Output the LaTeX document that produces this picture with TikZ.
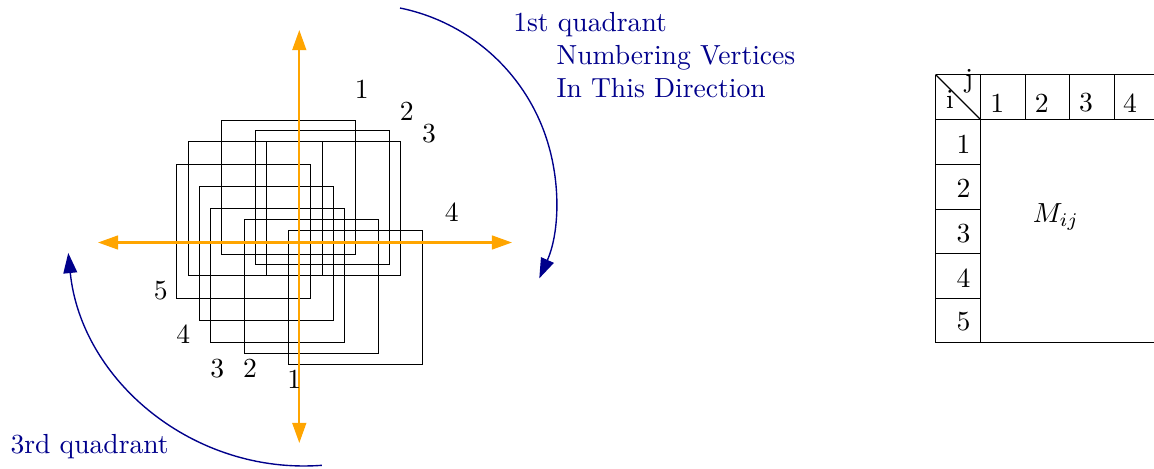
\documentclass[tikz,border=0pt]{standalone}
\usetikzlibrary{arrows.meta}
\definecolor{axorange}{RGB}{255,165,0}
\definecolor{arcblue}{RGB}{0,0,139}
\begin{document}
\begin{tikzpicture}[x=0.3623pt,y=0.3623pt,
  sq/.style={draw=black,line width=0.4pt},
  axisline/.style={draw=axorange,line width=0.8pt,{Triangle[length=7.3pt,width=5pt]}-{Triangle[length=7.3pt,width=5pt]}},
  turnarrow/.style={draw=arcblue,line width=0.5pt,-{Triangle[length=7.3pt,width=5pt]}},
  lbl/.style={inner sep=0pt},
  bluetext/.style={inner sep=0pt,anchor=base west,text=arcblue},
  tab/.style={draw=black,line width=0.4pt}]
\useasboundingbox (0,0) rectangle (1154,468);
% squares
\draw[sq] (221.5,213.5) rectangle +(134,134);
\draw[sq] (255.5,203.5) rectangle +(134,134);
\draw[sq] (188.5,192.5) rectangle +(134,134);
\draw[sq] (266.5,192.5) rectangle +(134,134);
\draw[sq] (176.5,169.5) rectangle +(134,134);
\draw[sq] (199.5,147.5) rectangle +(134,134);
\draw[sq] (210.5,125.5) rectangle +(134,134);
\draw[sq] (244.5,114.5) rectangle +(134,134);
\draw[sq] (288.5,103.5) rectangle +(134,134);
% axes
\coordinate (axL) at (98,225.5);
\coordinate (axR) at (512,225.5);
\coordinate (axB) at (299.3,25);
\coordinate (axT) at (299.3,438);
\draw[axisline] (axL) -- (axR);
\draw[axisline] (axB) -- (axT);
% vertex labels
\node[lbl] (t1) at (361.7,378.7) {1};
\node[lbl] (t2) at (406.7,356.3) {2};
\node[lbl] (t3) at (429,334.7) {3};
\node[lbl] (t4) at (451.7,256.3) {4};
\node[lbl] (b5) at (160.7,177.3) {5};
\node[lbl] (b4) at (183.3,133.7) {4};
\node[lbl] (b3) at (217.3,99.7) {3};
\node[lbl] (b2) at (250,99.7) {2};
\node[lbl] (b1) at (294.3,88.7) {1};
% arcs
\coordinate (q1s) at (400,460);
\draw[turnarrow] (q1s) arc[start angle=78.5,end angle=-24,radius=195];
\coordinate (q3s) at (321.8,2.7);
\draw[turnarrow] (q3s) arc[start angle=-85.7,end angle=-174.2,radius=237];
% blue texts
\node[bluetext] (q1a) at (512.7,437) {1st quadrant};
\node[bluetext] (q1b) at (556,404) {Numbering Vertices};
\node[bluetext] (q1c) at (556,370.3) {In This Direction};
\node[bluetext] (q3a) at (10,14.7) {3rd quadrant};
% table
\draw[tab] (935.5,393.5) -- (1154,393.5);
\draw[tab] (935.5,348.5) -- (1154,348.5);
\draw[tab] (935.5,125.5) -- (1154,125.5);
\draw[tab] (935.5,393.5) -- (935.5,125.5);
\draw[tab] (980.5,393.5) -- (980.5,125.5);
\draw[tab] (1025.5,393.5) -- (1025.5,348.5);
\draw[tab] (1069.5,393.5) -- (1069.5,348.5);
\draw[tab] (1114.5,393.5) -- (1114.5,348.5);
\draw[tab] (935.5,303.5) -- (980.5,303.5);
\draw[tab] (935.5,258.5) -- (980.5,258.5);
\draw[tab] (935.5,214.5) -- (980.5,214.5);
\draw[tab] (935.5,169.5) -- (980.5,169.5);
\draw[tab] (935.5,393.5) -- (980.5,348.5);
\node[lbl,anchor=base] (ti) at (950,359.7) {i};
\node[lbl,anchor=base] (tj) at (969,380.7) {j};
\node[lbl] (c1) at (997.3,365) {1};
\node[lbl] (c2) at (1041.7,365) {2};
\node[lbl] (c3) at (1086,365) {3};
\node[lbl] (c4) at (1130,365) {4};
\node[lbl] (r1) at (963.5,324) {1};
\node[lbl] (r2) at (963.5,279.3) {2};
\node[lbl] (r3) at (963.5,234.8) {3};
\node[lbl] (r4) at (963.5,190.3) {4};
\node[lbl] (r5) at (963.5,146) {5};
\node[lbl] (mij) at (1056,251) {$M_{ij}$};
\end{tikzpicture}
\end{document}
